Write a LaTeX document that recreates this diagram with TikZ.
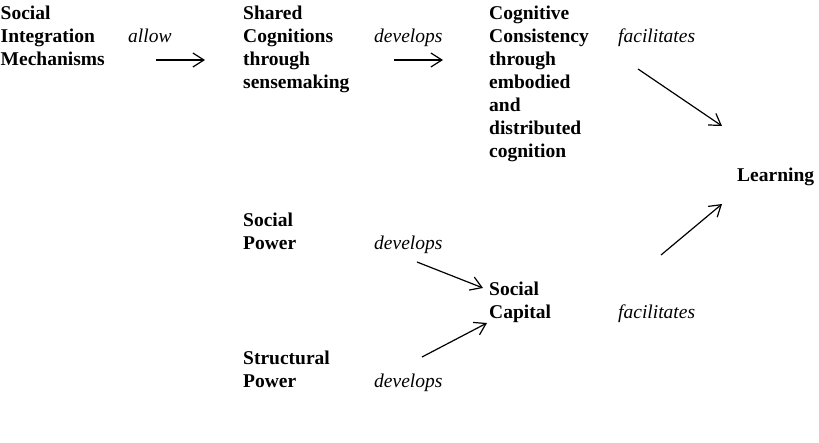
\documentclass[tikz,border=0pt]{standalone}
\usepackage{fontspec}
\setmainfont{Liberation Serif}
\usepackage{tikz}
\usetikzlibrary{arrows.meta}

\begin{document}
\begin{tikzpicture}[
      x=1pt, y=-1pt,
      concept/.style={anchor=base west, align=left, inner sep=0pt, font=\fontsize{19.5}{23}\selectfont\bfseries},
      verb/.style={anchor=base west, inner sep=0pt, font=\fontsize{19.5}{23}\selectfont\itshape},
      link/.style={line width=1.2pt, -{Straight Barb[length=11pt,width=14pt,line width=1.2pt]}}
    ]
      \useasboundingbox (0,0) rectangle (819,442);

      % upper chain (base = last line)
      \node[concept] (sim) at (0.5,65) {Social\\Integration\\Mechanisms};
      \node[verb] (allow) at (128,42) {allow};
      \node[concept] (shared) at (243,88) {Shared\\Cognitions\\through\\sensemaking};
      \node[verb] (dev1) at (374,42) {develops};
      \node[concept] (cogcon) at (489,157) {Cognitive\\Consistency\\through\\embodied\\and\\distributed\\cognition};
      \node[verb] (fac1) at (618,42) {facilitates};
      \node[concept] (learn) at (737,181) {Learning};

      % lower chain
      \node[concept] (socpow) at (243,249) {Social\\Power};
      \node[verb] (dev2) at (374,249) {develops};
      \node[concept] (soccap) at (489,318) {Social\\Capital};
      \node[verb] (fac2) at (618,318) {facilitates};
      \node[concept] (strpow) at (243,387) {Structural\\Power};
      \node[verb] (dev3) at (374,387) {develops};

      % arrow ends
      \coordinate (a1s) at (156,60);  \coordinate (a1e) at (205,60);
      \coordinate (a2s) at (394,60);  \coordinate (a2e) at (443,60);
      \coordinate (a3s) at (638,69);  \coordinate (a3e) at (722,126);
      \coordinate (a4s) at (661,255); \coordinate (a4e) at (722,204);
      \coordinate (a5s) at (417,262); \coordinate (a5e) at (483,288);
      \coordinate (a6s) at (422,357); \coordinate (a6e) at (487,323);

      \draw[link] (a1s) -- (a1e);
      \draw[link] (a2s) -- (a2e);
      \draw[link] (a3s) -- (a3e);
      \draw[link] (a4s) -- (a4e);
      \draw[link] (a5s) -- (a5e);
      \draw[link] (a6s) -- (a6e);
    \end{tikzpicture}
\end{document}
